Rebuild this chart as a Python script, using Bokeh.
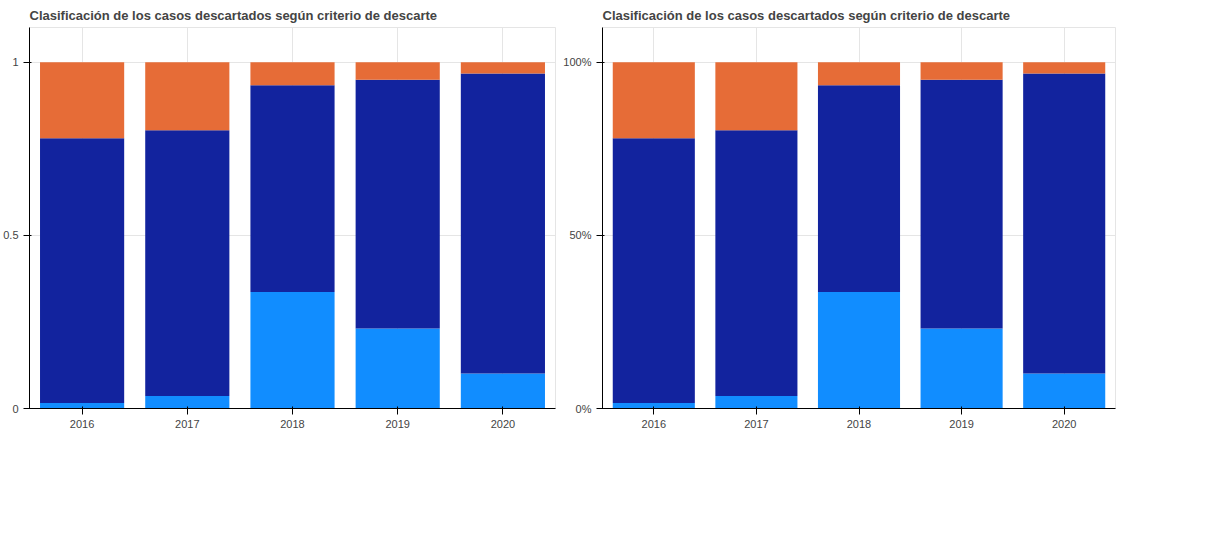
import numpy as np
from bokeh.plotting import figure
from bokeh.models import (ColumnDataSource, Range1d, FixedTicker,
                          NumeralTickFormatter, Legend, LegendItem)
from bokeh.layouts import column, row
from bokeh.core.properties import value
from bokeh.embed import file_html
from bokeh.resources import INLINE

years = ["2016", "2017", "2018", "2019", "2020"]
sin_datos = [0.016, 0.036, 0.336, 0.231, 0.101]
igm_negativo = [0.764, 0.767, 0.597, 0.718, 0.866]
otros = [0.220, 0.197, 0.067, 0.051, 0.033]
left_colors = ["#118DFF", "#12239E", "#E66C37"]

src_l = ColumnDataSource(dict(years=years, sin_datos=sin_datos,
                              igm_negativo=igm_negativo, otros=otros))
left = figure(width=560, height=430, x_range=years, y_range=Range1d(0, 1.1),
              output_backend="svg", toolbar_location=None,
              title="Clasificación de los casos descartados según criterio de descarte")
left.vbar_stack(["sin_datos", "igm_negativo", "otros"], x="years", width=0.8,
                fill_color=left_colors, line_color=None, source=src_l)
left.yaxis.ticker = FixedTicker(ticks=[0, 0.5, 1.0])

left2 = figure(width=560, height=430, x_range=years, y_range=Range1d(0, 1.1),
              output_backend="svg", toolbar_location=None,
              title="Clasificación de los casos descartados según criterio de descarte")
left2.vbar_stack(["sin_datos", "igm_negativo", "otros"], x="years", width=0.8,
                fill_color=left_colors, line_color=None, source=src_l)
left2.yaxis.ticker = FixedTicker(ticks=[0, 0.5, 1.0])
left2.yaxis.formatter = NumeralTickFormatter(format="0%")

layout = row(left, left2)
open("out.html", "w").write(file_html(layout, INLINE))
